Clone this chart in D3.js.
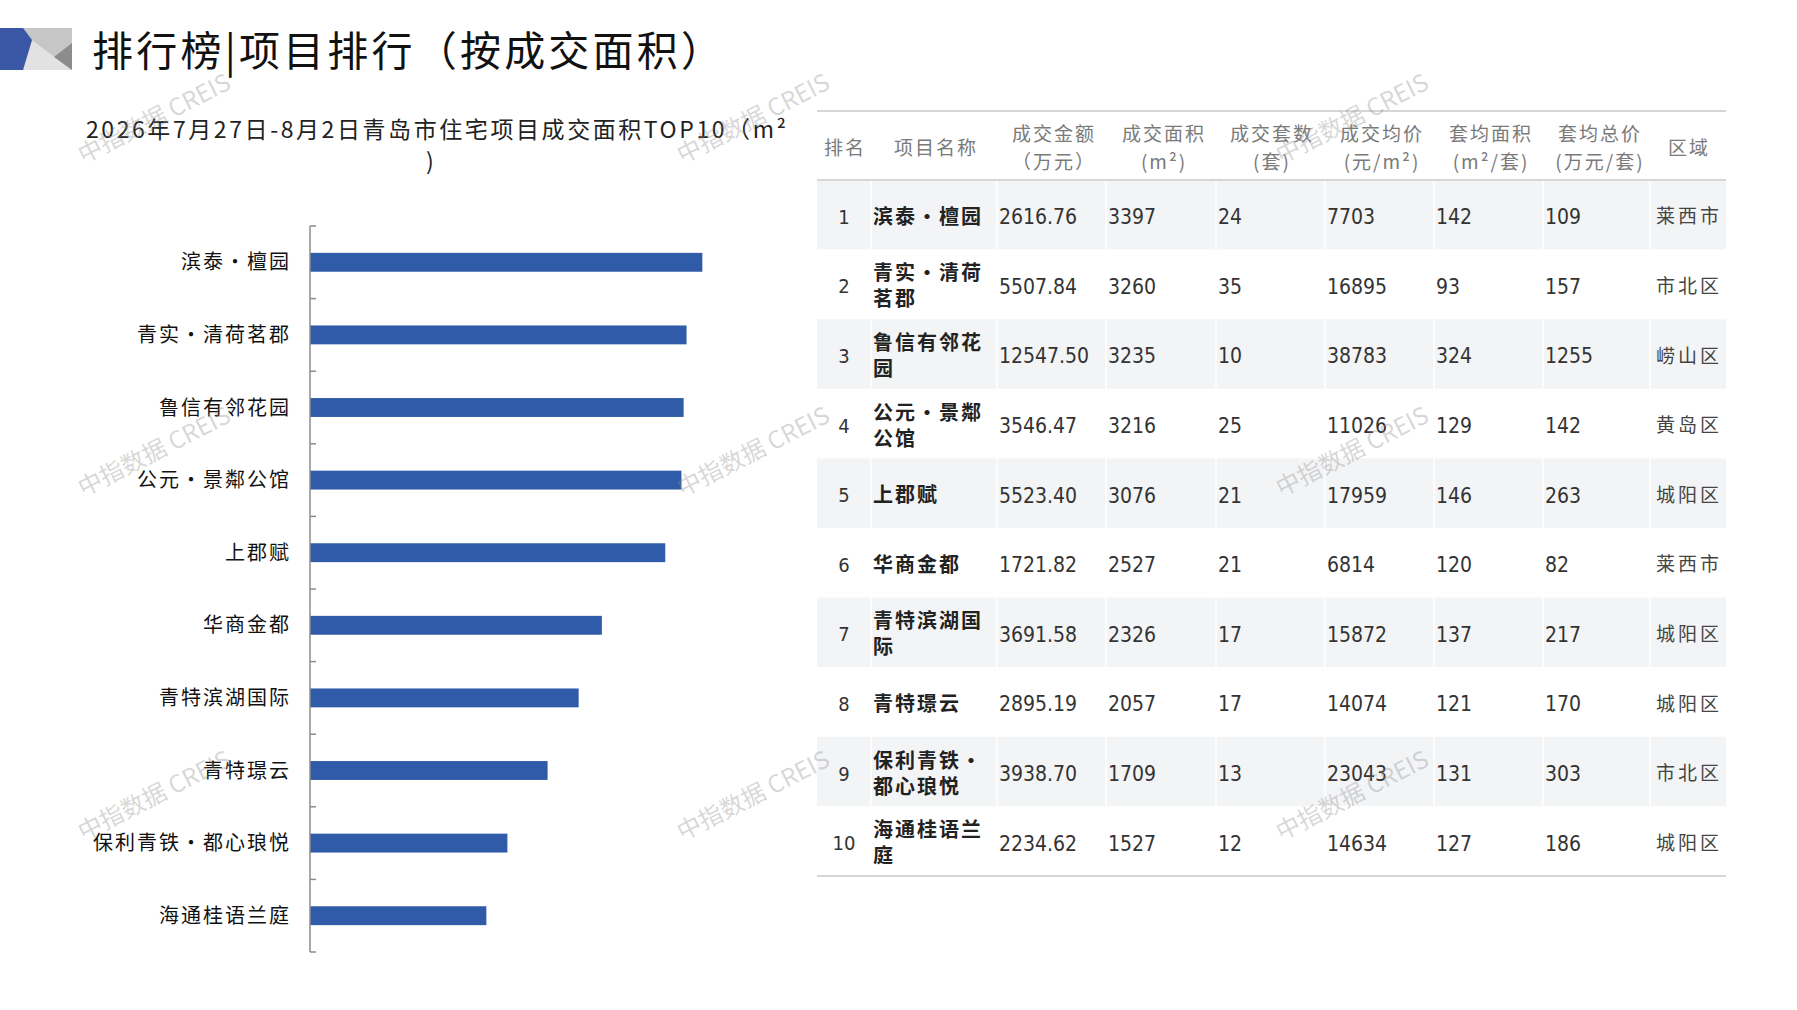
<!DOCTYPE html>
<html>
<head>
<meta charset="utf-8">
<script src="https://cdn.jsdelivr.net/npm/d3@7"></script>
<style>
  body { margin: 0; background: #fff; }
  svg text { font-family: "Noto Sans CJK SC", "Noto Sans", sans-serif; }
</style>
</head>
<body>
<svg id="page" width="1797" height="1010"></svg>
<script>
// data
var projects = ["滨泰•檀园", "青实•清荷茗郡", "鲁信有邻花园", "公元•景鄰公馆", "上郡赋", "华商金都", "青特滨湖国际", "青特璟云", "保利青铁•都心琅悦", "海通桂语兰庭"]
var ranks = [1, 2, 3, 4, 5, 6, 7, 8, 9, 10]
var amount = ["2616.76", "5507.84", "12547.50", "3546.47", "5523.40", "1721.82", "3691.58", "2895.19", "3938.70", "2234.62"]
var area = [3397, 3260, 3235, 3216, 3076, 2527, 2326, 2057, 1709, 1527]
var units = [24, 35, 10, 25, 21, 21, 17, 17, 13, 12]
var price = [7703, 16895, 38783, 11026, 17959, 6814, 15872, 14074, 23043, 14634]
var avgArea = [142, 93, 324, 129, 146, 120, 137, 121, 131, 127]
var avgTotal = [109, 157, 1255, 142, 263, 82, 217, 170, 303, 186]
var district = ["莱西市", "市北区", "崂山区", "黄岛区", "城阳区", "莱西市", "城阳区", "城阳区", "市北区", "城阳区"]
var headers = [["排名"], ["项目名称"], ["成交金额", "（万元）"], ["成交面积", "(m²)"], ["成交套数", "(套)"], ["成交均价", "(元/m²)"], ["套均面积", "(m²/套)"], ["套均总价", "(万元/套)"], ["区域"]]

var svg = d3.select("#page")

// header logo + title
svg.append("rect").attr("x", 23).attr("y", 28).attr("width", 49).attr("height", 42).attr("fill", "#c6c6c6")
svg.append("polygon").attr("points", "32,40 72,70 23,70").attr("fill", "#e2e2e2")
svg.append("polygon").attr("points", "72,43 54,57 72,70").attr("fill", "#8c8c8c")
svg.append("polygon").attr("points", "0,28 23,28 32,40 23,70 0,70").attr("fill", "#3a57a6")
svg.append("text").attr("x", 92).attr("y", 66)
    .attr("font-size", 41).attr("fill", "#111")
    .attr("textLength", 630).attr("lengthAdjust", "spacing")
    .text("排行榜|项目排行（按成交面积）")

// chart subtitle
svg.append("text").attr("x", 86).attr("y", 138)
    .attr("font-size", 23).attr("fill", "#222")
    .attr("textLength", 700).attr("lengthAdjust", "spacing")
    .text("2026年7月27日-8月2日青岛市住宅项目成交面积TOP10（m²")
svg.append("text").attr("x", 430).attr("y", 170).attr("text-anchor", "middle")
    .attr("font-size", 23).attr("fill", "#222").text(")")

// bar chart
var top0 = 226, bot0 = 952, axX = 310
var y = d3.scaleBand().domain(projects).range([top0, bot0]).paddingInner(0.74).paddingOuter(0.37)
var x = d3.scaleLinear().domain([0, 4000]).range([axX, axX + 462])

var bars = svg.append("g")
bars.selectAll("rect").data(projects).join("rect")
    .attr("x", x(0))
    .attr("y", d => y(d))
    .attr("width", (d, i) => x(area[i]) - x(0))
    .attr("height", y.bandwidth())
    .attr("fill", "#2f5ba8")

// axis line with ticks between categories
var bounds = d3.range(projects.length + 1).map(i => top0 + i * ((bot0 - top0) / projects.length))
bars.append("line").attr("x1", axX).attr("x2", axX).attr("y1", top0).attr("y2", bot0)
    .attr("stroke", "#8c8c8c").attr("stroke-width", 1.5)
bars.selectAll(".tk").data(bounds).join("line").attr("class", "tk")
    .attr("x1", axX).attr("x2", axX + 6).attr("y1", d => d).attr("y2", d => d)
    .attr("stroke", "#8c8c8c").attr("stroke-width", 1.5)
bars.selectAll(".lbl").data(projects).join("text").attr("class", "lbl")
    .attr("x", 291).attr("y", d => y(d) + y.bandwidth() / 2)
    .attr("dy", "0.35em").attr("text-anchor", "end")
    .attr("font-size", 20).attr("letter-spacing", 2).attr("fill", "#111")
    .text(d => d)

// table
var colCenters = [844, 935, 1053, 1163, 1271, 1381, 1490, 1599, 1688]
var colLeft = [844, 873, 999, 1108, 1218, 1327, 1436, 1545, 1688]
var colEdges = [817, 871, 997, 1106, 1216, 1325, 1434, 1543, 1650, 1726]
var tL = 817, tR = 1726
var tTop = 111, hBottom = 180, tBottom = 876
var rowH = (tBottom - hBottom) / ranks.length

var table = svg.append("g")
table.selectAll(".rowbg").data(ranks).join("rect").attr("class", "rowbg")
    .attr("x", tL).attr("width", tR - tL)
    .attr("y", (d, i) => hBottom + i * rowH).attr("height", rowH)
    .attr("fill", (d, i) => i % 2 === 0 ? "#f3f4f6" : "#fff")
// faint column separators inside shaded rows
table.selectAll(".sep").data(colEdges.slice(1, -1)).join("line").attr("class", "sep")
    .attr("x1", d => d).attr("x2", d => d).attr("y1", hBottom).attr("y2", tBottom)
    .attr("stroke", "#fff").attr("stroke-width", 1.5)

;[tTop, hBottom, tBottom].forEach(function (ly) {
    table.append("line").attr("x1", tL).attr("x2", tR).attr("y1", ly).attr("y2", ly)
        .attr("stroke", "#d6d6d6").attr("stroke-width", 2)
})

headers.forEach(function (h, c) {
    var t = table.append("text").attr("text-anchor", "middle").attr("font-size", 19)
        .attr("letter-spacing", 2).attr("fill", "#7a7a7a")
    if (h.length === 1) {
        t.append("tspan").attr("x", colCenters[c] + 1).attr("y", 148).attr("dy", "0.35em").text(h[0])
    } else {
        t.append("tspan").attr("x", colCenters[c] + 1).attr("y", 134).attr("dy", "0.35em").text(h[0])
        t.append("tspan").attr("x", colCenters[c] + 1).attr("y", 162).attr("dy", "0.35em").text(h[1])
    }
})

var numFont = "'Liberation Sans Narrow', 'DejaVu Sans Condensed', sans-serif"
var numCols = [amount, area, units, price, avgArea, avgTotal]
ranks.forEach(function (r, i) {
    var cy = hBottom + i * rowH + rowH / 2 + 2
    table.append("text").attr("x", colCenters[0]).attr("y", cy).attr("dy", "0.35em")
        .attr("text-anchor", "middle").attr("font-size", 20).attr("fill", "#333")
        .style("font-family", numFont).text(r)
    // project name wraps after five glyphs
    var name = projects[i]
    var lines = []
    for (var k = 0; k < name.length; k += 5) lines.push(name.slice(k, k + 5))
    var nt = table.append("text").attr("font-size", 20).attr("letter-spacing", 2)
        .attr("font-weight", "bold").attr("fill", "#222")
    lines.forEach(function (ln, j) {
        nt.append("tspan").attr("x", colLeft[1])
            .attr("y", cy + (j - (lines.length - 1) / 2) * 26).attr("dy", "0.35em").text(ln)
    })
    numCols.forEach(function (col, c) {
        table.append("text").attr("x", colLeft[c + 2]).attr("y", cy).attr("dy", "0.35em")
            .attr("font-size", 21).attr("fill", "#333")
            .style("font-family", numFont).text(col[i])
    })
    table.append("text").attr("x", colCenters[8] + 1).attr("y", cy).attr("dy", "0.35em")
        .attr("text-anchor", "middle").attr("font-size", 19).attr("letter-spacing", 3).attr("fill", "#444")
        .text(district[i])
})

// watermarks
var wmX = [158, 757, 1356], wmY = [126, 459, 803]
wmY.forEach(function (wy) {
    wmX.forEach(function (wx) {
        svg.append("text").attr("transform", "translate(" + wx + "," + wy + ") rotate(-27)")
            .attr("text-anchor", "middle").attr("font-size", 24)
            .attr("fill", "rgba(140,140,140,0.35)")
            .text("中指数据 CREIS")
    })
})
</script>
</body>
</html>
